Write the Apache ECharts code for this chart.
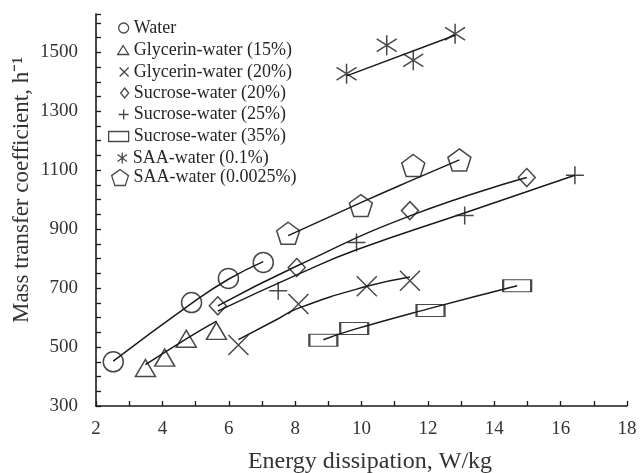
<!DOCTYPE html>
<html><head><meta charset="utf-8">
<script src="https://cdn.jsdelivr.net/npm/echarts@6/dist/echarts.min.js"></script>
<style>html,body{margin:0;padding:0;background:#fff}#c{width:640px;height:473px}</style>
</head><body><div id="c"></div>
<script>
// ---- data ----
const seriesNames = ['Water','Glycerin-water (15%)','Glycerin-water (20%)','Sucrose-water (20%)','Sucrose-water (25%)','Sucrose-water (35%)','SAA-water (0.1%)','SAA-water (0.0025%)'];
const water      = [[2.52,450],[4.88,651],[5.99,733],[7.04,787]];
const glyc15     = [[3.49,429],[4.07,464],[4.72,528],[5.63,555]];
const glyc20     = [[6.29,507],[8.10,646],[10.16,706],[11.46,725]];
const sucr20     = [[5.67,640],[8.05,770],[11.46,963],[14.98,1075]];
const sucr25     = [[7.49,691],[9.85,855],[13.11,946],[16.43,1083]];
const sucr35     = [[8.85,523],[9.78,563],[12.08,624],[14.69,708]];
const saa01      = [[9.55,1427],[10.76,1524],[11.56,1473],[12.82,1563]];
const saa00025   = [[7.79,886],[9.98,980],[11.56,1116],[12.95,1135]];
// trend lines
const waterFit   = [[2.52,452],[4.88,648],[5.99,730],[7.04,790]];
const glyc15Fit  = [[3.49,440],[4.72,528],[5.63,588]];
const glyc20Fit  = [[6.29,525],[7.39,590],[8.10,632],[10.16,706],[11.46,738]];
const sucr20Fit  = [[5.67,640],[8.05,775],[11.46,945],[14.98,1075]];
const sucr25Fit  = [[5.67,622],[8.15,750],[9.85,830],[13.10,955],[16.43,1083]];
const sucr35Fit  = [[8.85,525],[9.78,560],[12.09,632],[14.69,708]];
const saa01Fit   = [[9.55,1420],[12.82,1558]];
const saa00025Fit= [[7.79,878],[9.98,990],[11.56,1068],[12.95,1135]];
const xTicks = [2,4,6,8,10,12,14,16,18];
const yTicks = [300,500,700,900,1100,1300,1500];

const pts = [water,glyc15,glyc20,sucr20,sucr25,sucr35,saa01,saa00025];
const fits = [waterFit,glyc15Fit,glyc20Fit,sucr20Fit,sucr25Fit,sucr35Fit,saa01Fit,saa00025Fit];
const symbols = [
  'circle','triangle','path://M0,0L10,10M10,0L0,10','diamond','path://M5,0L5,10M0,5L10,5','rect',
  'path://M5,0L5,10M0.8,1.8L9.2,8.2M9.2,1.8L0.8,8.2',
  'path://M5,0L9.755,3.455L7.939,9.045L2.061,9.045L0.245,3.455Z'
];
const sizes = [20,[20,17],20,[17,18],18,[28,12],20,[23,22]];
const legSizes = [[10,10],[11,9],[9,9],[8,10],[10,10],[20,10],[11,11],[17,16]];
const legRows = [24,45.5,67.5,89,110.5,132.5,154.5,176.5];

const INK = '#1a1a1a';
const FONT = 'Liberation Serif';
const series = [];
fits.forEach((f,i)=>series.push({
  type:'line', name:seriesNames[i]+' fit', data:f, smooth:true, showSymbol:false, silent:true,
  lineStyle:{color:INK,width:1.5}, z:2
}));
pts.forEach((p,i)=>series.push({
  type:'scatter', name:seriesNames[i], data:p, symbol:symbols[i], symbolSize:sizes[i],
  itemStyle:{color:'rgba(255,255,255,0)',borderColor:INK,borderWidth:1.5}, z:3
}));

const legends = seriesNames.map((n,i)=>({
  data:[{name:n, icon:symbols[i]}],
  left:128 - legSizes[i][0], top:legRows[i] - legSizes[i][1]/2,
  itemWidth:legSizes[i][0], itemHeight:legSizes[i][1], selectedMode:false, padding:0,
  itemStyle:{color:'rgba(255,255,255,0)',borderColor:INK,borderWidth:1.3},
  textStyle:{fontFamily:FONT,fontSize:18,color:'#262626'}
}));

const chart = echarts.init(document.getElementById('c'));
chart.setOption({
  backgroundColor:'#fff', animation:false,
  grid:{left:96,right:13,top:14,bottom:67},
  legend:legends,
  xAxis:{type:'value',min:2,max:18,interval:2,
    axisLine:{lineStyle:{color:INK,width:1.6}},
    axisTick:{inside:true,length:5,lineStyle:{color:INK,width:1.3}},
    minorTick:{show:true,splitNumber:2,length:5,lineStyle:{color:INK,width:1.3}},
    splitLine:{show:false},
    axisLabel:{fontFamily:FONT,fontSize:19,color:'#333',margin:14,
      formatter:v=>xTicks.includes(v)?String(v):''}
  },
  yAxis:{type:'value',min:300,max:1630,interval:200,
    axisLine:{show:true,lineStyle:{color:INK,width:1.6}},
    axisTick:{show:true,inside:true,length:5,lineStyle:{color:INK,width:1.3}},
    minorTick:{show:true,splitNumber:4,length:5,lineStyle:{color:INK,width:1.3}},
    splitLine:{show:false},
    axisLabel:{fontFamily:FONT,fontSize:19,color:'#333',margin:18,
      formatter:v=>yTicks.includes(v)?String(v):''}
  },
  graphic:[
    {type:'text',x:370,y:462,
      style:{text:'Energy dissipation, W/kg',font:'24px "Liberation Serif"',fill:'#333',
        textAlign:'center',textVerticalAlign:'middle'}},
    {type:'text',rotation:Math.PI/2,x:22,y:190,
      style:{text:'Mass transfer coefficient, h\u207B\u00B9',font:'23px "Liberation Serif"',fill:'#333',
        textAlign:'center',textVerticalAlign:'middle'}}
  ],
  series:series
});
</script></body></html>
